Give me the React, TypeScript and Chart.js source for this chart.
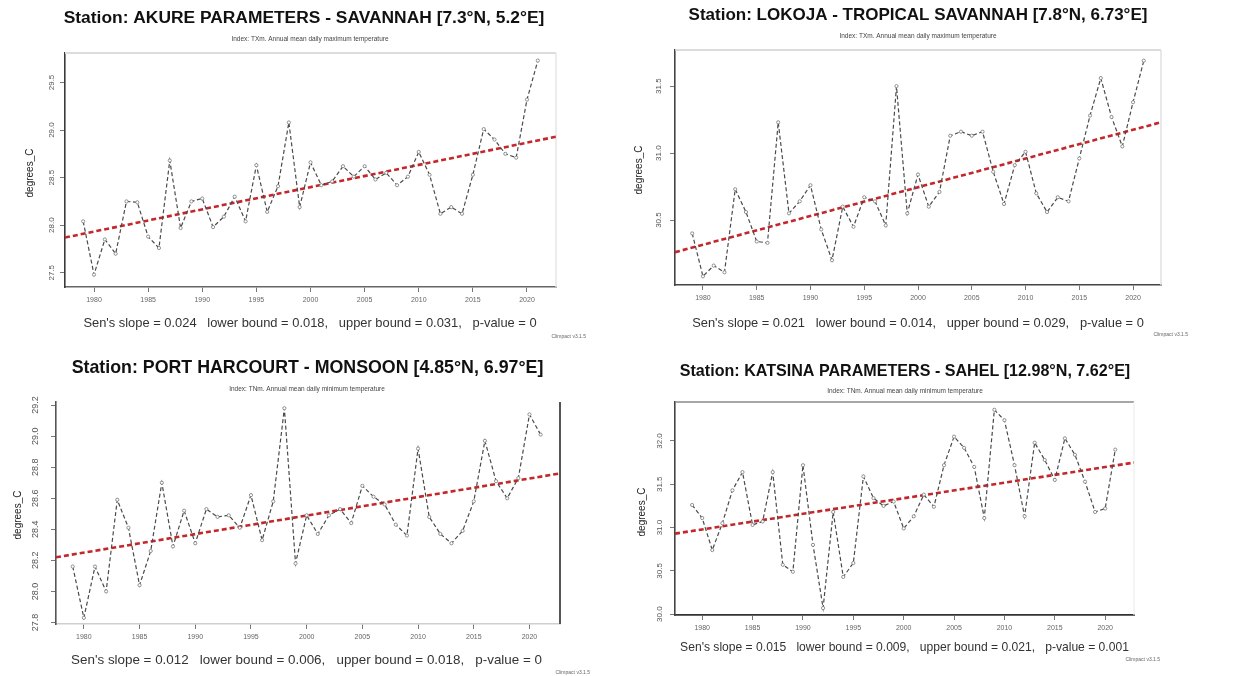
import React, { useEffect, useRef } from 'react';
import { Chart, registerables } from 'chart.js';
Chart.register(...registerables);

const FONT = "'Liberation Sans', Arial, sans-serif";

const years = [1979, 1980, 1981, 1982, 1983, 1984, 1985, 1986, 1987, 1988, 1989, 1990, 1991, 1992, 1993, 1994, 1995, 1996, 1997, 1998, 1999, 2000, 2001, 2002, 2003, 2004, 2005, 2006, 2007, 2008, 2009, 2010, 2011, 2012, 2013, 2014, 2015, 2016, 2017, 2018, 2019, 2020, 2021];
const xTicks = [1980, 1985, 1990, 1995, 2000, 2005, 2010, 2015, 2020];

const akureTemp = [28.04, 27.48, 27.85, 27.70, 28.25, 28.24, 27.88, 27.76, 28.68, 27.97, 28.25, 28.28, 27.98, 28.09, 28.30, 28.04, 28.63, 28.14, 28.41, 29.08, 28.19, 28.66, 28.42, 28.46, 28.62, 28.51, 28.62, 28.48, 28.55, 28.42, 28.51, 28.77, 28.53, 28.12, 28.19, 28.12, 28.53, 29.01, 28.90, 28.75, 28.71, 29.32, 29.73];
const lokojaTemp = [30.40, 30.08, 30.16, 30.11, 30.73, 30.56, 30.34, 30.33, 31.23, 30.55, 30.64, 30.76, 30.43, 30.20, 30.60, 30.45, 30.67, 30.64, 30.46, 31.50, 30.55, 30.84, 30.60, 30.71, 31.13, 31.16, 31.13, 31.16, 30.86, 30.62, 30.91, 31.01, 30.70, 30.56, 30.67, 30.64, 30.96, 31.28, 31.56, 31.27, 31.05, 31.38, 31.69];
const portHarcourtTemp = [28.16, 27.83, 28.16, 28.00, 28.59, 28.41, 28.04, 28.26, 28.70, 28.29, 28.52, 28.31, 28.53, 28.48, 28.49, 28.41, 28.62, 28.33, 28.58, 29.18, 28.18, 28.49, 28.37, 28.49, 28.53, 28.44, 28.68, 28.61, 28.56, 28.43, 28.36, 28.92, 28.48, 28.37, 28.31, 28.39, 28.58, 28.97, 28.71, 28.60, 28.73, 29.14, 29.01];
const katsinaTemp = [31.26, 31.11, 30.74, 31.05, 31.43, 31.64, 31.03, 31.07, 31.64, 30.57, 30.49, 31.72, 30.80, 30.07, 31.18, 30.43, 30.59, 31.59, 31.34, 31.25, 31.30, 30.99, 31.13, 31.38, 31.24, 31.72, 32.05, 31.92, 31.70, 31.11, 32.36, 32.24, 31.72, 31.13, 31.98, 31.78, 31.55, 32.03, 31.84, 31.53, 31.18, 31.22, 31.90];

const akureTrendX = [1977.32, 2022.68];
const akureTrendY = [27.87, 28.93];
const lokojaTrendX = [1977.4, 2022.6];
const lokojaTrendY = [30.26, 31.23];
const portHarcourtTrendX = [1977.5, 2022.74];
const portHarcourtTrendY = [28.22, 28.76];
const katsinaTrendX = [1977.3, 2022.86];
const katsinaTrendY = [30.93, 31.75];

const akureYTicks = [27.5, 28.0, 28.5, 29.0, 29.5];
const lokojaYTicks = [30.5, 31.0, 31.5];
const portHarcourtYTicks = [27.8, 28.0, 28.2, 28.4, 28.6, 28.8, 29.0, 29.2];
const katsinaYTicks = [30.0, 30.5, 31.0, 31.5, 32.0];

type Side = { color: string; width: number } | null;
type Panel = {
  canvas: [number, number, number, number];
  area: [number, number, number, number];
  xRange: [number, number];
  yRange: [number, number];
  values: number[];
  trendX: number[];
  trendY: number[];
  yTicks: number[];
  title: string;
  subtitle: string;
  sen: string;
  titleY: number;
  titleX: number;
  titleSize: number;
  subY: number;
  senY: number;
  senX: number;
  senSize: number;
  cx: number;
  yTitleX: number;
  yTitleY: number;
  yLabelX: number;
  yLabelSize: number;
  credit: [number, number];
  top: Side; right: Side; left: Side; bottom: Side;
};

const panels: Panel[] = [
  {
    canvas: [0, 0, 620, 345], area: [65, 53, 556, 287],
    xRange: [1977.32, 2022.68], yRange: [27.35, 29.81],
    values: akureTemp, trendX: akureTrendX, trendY: akureTrendY, yTicks: akureYTicks,
    title: 'Station: AKURE PARAMETERS - SAVANNAH [7.3°N, 5.2°E]',
    subtitle: 'Index: TXm. Annual mean daily maximum temperature',
    sen: "Sen's slope = 0.024   lower bound = 0.018,   upper bound = 0.031,   p-value = 0",
    titleY: 18, titleX: 304, titleSize: 17.4, subY: 39, senY: 323, senX: 310, senSize: 12.9,
    cx: 310, yTitleX: 30, yTitleY: 173, yLabelX: 52, yLabelSize: 8,
    credit: [586, 337],
    top: { color: '#dcdcdc', width: 2 }, right: { color: '#e6e6e6', width: 1.5 },
    left: { color: '#3a3a3a', width: 1.6 }, bottom: { color: '#666', width: 1.6 },
  },
  {
    canvas: [620, 0, 628, 345], area: [675, 50, 1161, 285],
    xRange: [1977.4, 2022.6], yRange: [30.015, 31.77],
    values: lokojaTemp, trendX: lokojaTrendX, trendY: lokojaTrendY, yTicks: lokojaYTicks,
    title: 'Station: LOKOJA - TROPICAL SAVANNAH [7.8°N, 6.73°E]',
    subtitle: 'Index: TXm. Annual mean daily maximum temperature',
    sen: "Sen's slope = 0.021   lower bound = 0.014,   upper bound = 0.029,   p-value = 0",
    titleY: 15, titleX: 918, titleSize: 17, subY: 36, senY: 323, senX: 918, senSize: 12.85,
    cx: 918, yTitleX: 639, yTitleY: 170, yLabelX: 659, yLabelSize: 8,
    credit: [1188, 335],
    top: { color: '#d0d0d0', width: 1.5 }, right: { color: '#e0e0e0', width: 1.5 },
    left: { color: '#444', width: 1.6 }, bottom: { color: '#444', width: 1.6 },
  },
  {
    canvas: [0, 345, 620, 331], area: [56, 402, 560, 624],
    xRange: [1977.5, 2022.74], yRange: [27.79, 29.22],
    values: portHarcourtTemp, trendX: portHarcourtTrendX, trendY: portHarcourtTrendY, yTicks: portHarcourtYTicks,
    title: 'Station: PORT HARCOURT - MONSOON [4.85°N, 6.97°E]',
    subtitle: 'Index: TNm. Annual mean daily minimum temperature',
    sen: "Sen's slope = 0.012   lower bound = 0.006,   upper bound = 0.018,   p-value = 0",
    titleY: 368, titleX: 307.5, titleSize: 17.8, subY: 389, senY: 660, senX: 306.5, senSize: 13.4,
    cx: 307, yTitleX: 18, yTitleY: 515, yLabelX: 36, yLabelSize: 9,
    credit: [590, 673],
    top: null, right: { color: '#555', width: 2 },
    left: { color: '#555', width: 1.6 }, bottom: { color: '#cfcfcf', width: 1.4 },
  },
  {
    canvas: [620, 345, 628, 331], area: [675, 402, 1134, 615],
    xRange: [1977.3, 2022.86], yRange: [29.99, 32.45],
    values: katsinaTemp, trendX: katsinaTrendX, trendY: katsinaTrendY, yTicks: katsinaYTicks,
    title: 'Station: KATSINA PARAMETERS - SAHEL [12.98°N, 7.62°E]',
    subtitle: 'Index: TNm. Annual mean daily minimum temperature',
    sen: "Sen's slope = 0.015   lower bound = 0.009,   upper bound = 0.021,   p-value = 0.001",
    titleY: 372, titleX: 905, titleSize: 16.1, subY: 391, senY: 648, senX: 904.5, senSize: 12.1,
    cx: 905, yTitleX: 642, yTitleY: 512, yLabelX: 660, yLabelSize: 8,
    credit: [1160, 660],
    top: { color: '#8a8a8a', width: 1.5 }, right: { color: '#eeeeee', width: 1.2 },
    left: { color: '#444', width: 1.6 }, bottom: { color: '#333', width: 1.8 },
  },
];

function textPlugin(p: Panel) {
  const [cl, ct] = p.canvas;
  const txt = (ctx: CanvasRenderingContext2D, s: string, x: number, y: number, font: string, color: string, align: CanvasTextAlign = 'center', rot = 0) => {
    ctx.save();
    ctx.translate(x - cl, y - ct);
    if (rot) ctx.rotate(rot);
    ctx.font = font;
    ctx.fillStyle = color;
    ctx.textAlign = align;
    ctx.textBaseline = 'middle';
    ctx.fillText(s, 0, 0);
    ctx.restore();
  };
  return {
    id: 'panelText',
    beforeDatasetsDraw(chart: any) {
      const ctx = chart.ctx as CanvasRenderingContext2D;
      const a = chart.chartArea;
      ctx.save();
      if (p.top) {
        ctx.strokeStyle = p.top.color; ctx.lineWidth = p.top.width;
        ctx.beginPath(); ctx.moveTo(a.left, a.top); ctx.lineTo(a.right, a.top); ctx.stroke();
      }
      if (p.right) {
        ctx.strokeStyle = p.right.color; ctx.lineWidth = p.right.width;
        ctx.beginPath(); ctx.moveTo(a.right, a.top); ctx.lineTo(a.right, a.bottom); ctx.stroke();
      }
      ctx.restore();
    },
    afterDraw(chart: any) {
      const ctx = chart.ctx as CanvasRenderingContext2D;
      txt(ctx, p.title, p.titleX, p.titleY, `bold ${p.titleSize}px ${FONT}`, '#111');
      txt(ctx, p.subtitle, p.cx, p.subY, `6.5px ${FONT}`, '#444');
      txt(ctx, p.sen, p.senX, p.senY, `${p.senSize}px ${FONT}`, '#333');
      txt(ctx, 'Climpact v3.1.5', p.credit[0], p.credit[1], `5px ${FONT}`, '#666', 'right');
      txt(ctx, 'degrees_C', p.yTitleX, p.yTitleY, `10px ${FONT}`, '#222', 'center', -Math.PI / 2);
      const ys = chart.scales.y;
      p.yTicks.forEach((v) => {
        const py = ys.getPixelForValue(v) + ct;
        txt(ctx, v.toFixed(1), p.yLabelX, py, `${p.yLabelSize}px ${FONT}`, '#555', 'center', -Math.PI / 2);
      });
    },
  };
}

function PanelChart({ p }: { p: Panel }) {
  const ref = useRef<HTMLCanvasElement>(null);
  const [cl, ct, cw, ch] = p.canvas;
  useEffect(() => {
    const [L, T, R, B] = p.area;
    const chart = new Chart(ref.current as HTMLCanvasElement, {
      type: 'line',
      data: {
        datasets: [
          {
            data: years.map((y, i) => ({ x: y, y: p.values[i] })),
            borderColor: '#4a4a4a',
            borderWidth: 1.2,
            borderDash: [4, 2.5],
            pointRadius: 1.6,
            pointBorderWidth: 0.8,
            pointBackgroundColor: '#ffffff',
            pointBorderColor: '#777',
            tension: 0,
            fill: false,
          },
          {
            data: p.trendX.map((x, i) => ({ x, y: p.trendY[i] })),
            borderColor: '#c3272b',
            borderWidth: 2.6,
            borderDash: [5, 3],
            pointRadius: 0,
            tension: 0,
            fill: false,
          },
        ],
      } as any,
      options: {
        responsive: false,
        animation: false,
        devicePixelRatio: 1,
        layout: { padding: { top: T - ct, right: cl + cw - R, left: 0, bottom: 0 } },
        plugins: { legend: { display: false }, title: { display: false }, tooltip: { enabled: false } },
        scales: {
          x: {
            type: 'linear',
            min: p.xRange[0],
            max: p.xRange[1],
            afterBuildTicks: (s: any) => { s.ticks = xTicks.map((v) => ({ value: v })); },
            afterFit: (s: any) => { s.height = ct + ch - B; },
            ticks: {
              autoSkip: false, maxRotation: 0, minRotation: 0, padding: 4,
              color: '#666', font: { size: 7, family: FONT },
              callback: (v: any) => String(v),
            },
            grid: { display: true, drawOnChartArea: false, drawTicks: true, tickLength: 5, color: '#777', lineWidth: 1 },
            border: { display: true, color: p.bottom ? p.bottom.color : '#fff', width: p.bottom ? p.bottom.width : 0 },
          },
          y: {
            type: 'linear',
            min: p.yRange[0],
            max: p.yRange[1],
            afterBuildTicks: (s: any) => { s.ticks = p.yTicks.map((v) => ({ value: v })); },
            afterFit: (s: any) => { s.width = L - cl; },
            ticks: { display: false },
            grid: { display: true, drawOnChartArea: false, drawTicks: true, tickLength: 5, color: '#777', lineWidth: 1 },
            border: { display: true, color: p.left ? p.left.color : '#fff', width: p.left ? p.left.width : 0 },
          },
        },
      } as any,
      plugins: [textPlugin(p)],
    });
    return () => chart.destroy();
  }, []);
  return (
    <canvas
      ref={ref}
      width={cw}
      height={ch}
      style={{ position: 'absolute', left: cl, top: ct, width: cw, height: ch }}
    />
  );
}

export default function App() {
  return (
    <div style={{ position: 'fixed', left: 0, top: 0, width: 1248, height: 676, background: '#ffffff', overflow: 'hidden' }}>
      {panels.map((p, i) => (
        <PanelChart key={i} p={p} />
      ))}
    </div>
  );
}
